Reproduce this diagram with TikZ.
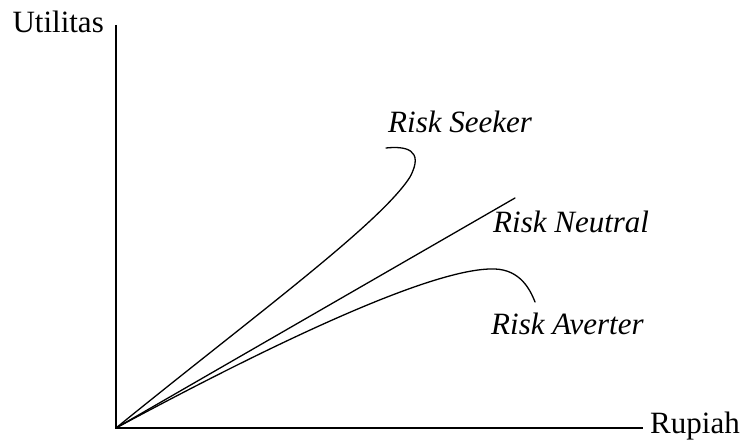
\documentclass[tikz,border=0pt]{standalone}
\usepackage{fontspec}
\setmainfont{Liberation Serif}
\begin{document}
\begin{tikzpicture}[x=1pt,y=1pt,
  lbl/.style={inner sep=0pt,font=\fontsize{31}{36}\selectfont},
  curve/.style={line width=1.3pt,line cap=round}]
\useasboundingbox (0,0) rectangle (746,439);
\coordinate (O) at (116,11);
\coordinate (ytop) at (116,414);
\coordinate (xend) at (643,11);
\coordinate (neu) at (515,241);
\draw[line width=1.4pt] (ytop) -- (O) -- (xend);
\node[lbl,anchor=base east] (util) at (104,406) {Utilitas};
\node[lbl,anchor=base west] (rup) at (650,6) {Rupiah};
\draw[curve] (O) .. controls (250,120) and (380,215) .. (410,262)
  .. controls (425,290) and (405,293) .. (386,291);
\draw[curve] (O) -- (neu);
\draw[curve] (O) .. controls (300,110) and (440,172) .. (495,170)
  .. controls (520,169) and (530,150) .. (535,137);
\node[lbl,anchor=base west] (seek) at (388,306) {\itshape Risk Seeker};
\node[lbl,anchor=base west] (neut) at (493,206) {\itshape Risk Neutral};
\node[lbl,anchor=base west] (aver) at (491,104) {\itshape Risk Averter};
\end{tikzpicture}
\end{document}
